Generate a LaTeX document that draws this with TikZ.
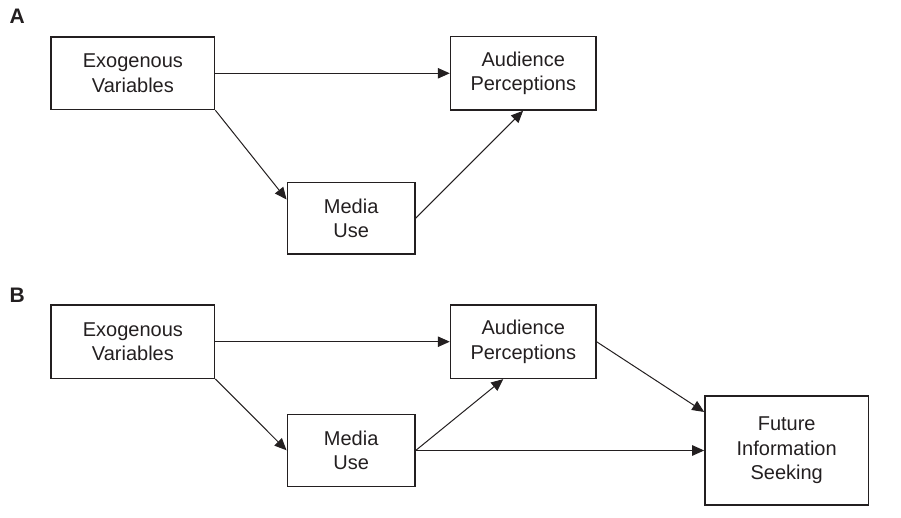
\documentclass[tikz,border=0pt]{standalone}
\usepackage{fontspec}
\setmainfont{Liberation Sans}
\usetikzlibrary{arrows.meta}
\definecolor{ink}{RGB}{35,31,32}
\tikzset{
  box/.style={draw=ink, line width=1.2pt, rectangle, inner sep=0pt,
    align=center, text=ink, font=\fontsize{20}{24.5}\selectfont},
  link/.style={draw=ink, line width=1pt,
    -{Triangle[length=12pt,width=10.5pt]}, shorten >=0.3pt},
  panel/.style={text=ink, font=\fontsize{21}{24}\selectfont\bfseries, inner sep=0pt}
}
\begin{document}
\begin{tikzpicture}[x=1pt,y=-1pt]
\useasboundingbox (0,0) rectangle (901,518);

% ---- panel A ----
\node[panel] (labA) at (17.3,16.3) {A};
\node[box, minimum width=163.7pt, minimum height=72.7pt] (eA) at (132.9,73.3) {Exogenous\\Variables};
\node[box, minimum width=145.3pt, minimum height=73.3pt] (aA) at (523.3,73.3) {Audience\\Perceptions};
\node[box, minimum width=127.7pt, minimum height=71.7pt] (mA) at (351.2,218.2) {Media\\Use};

\draw[link] (eA.east) -- (aA.west);
\draw[link] (eA.south east) -- (mA.164);
\draw[link] (mA.east) -- (aA.south);

% ---- panel B ----
\node[panel] (labB) at (17.3,295) {B};
\node[box, minimum width=163.7pt, minimum height=73.3pt] (eB) at (132.9,341.7) {Exogenous\\Variables};
\node[box, minimum width=145.3pt, minimum height=73.3pt] (aB) at (523.3,341.7) {Audience\\Perceptions};
\node[box, minimum width=127.7pt, minimum height=72.4pt] (mB) at (351.2,450.5) {Media\\Use};
\node[box, minimum width=163.3pt, minimum height=109pt] (fB) at (786.7,450.5) {Future\\Information\\Seeking};

\draw[link] (eB.east) -- (aB.west);
\draw[link] (eB.south east) -- (mB.west);
\draw[link] (mB.east) -- (aB.242);
\draw[link] (mB.east) -- (fB.west);
\draw[link] (aB.east) -- (fB.155.5);
\end{tikzpicture}
\end{document}
